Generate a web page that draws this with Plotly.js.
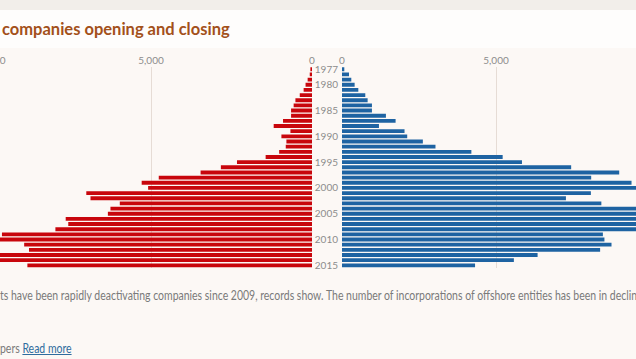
<!DOCTYPE html>
<html>
<head>
<meta charset="utf-8">
<script src="https://cdn.plot.ly/plotly-3.0.1.min.js"></script>
<style>
  html, body { margin:0; padding:0; width:636px; height:359px; overflow:hidden; background:#fcf8f5; }
  #topstrip { position:absolute; left:0; top:0; width:636px; height:10px; background:#f2eeea; z-index:0; }
  #titleband { position:absolute; left:0; top:10px; width:636px; height:38px; background:#fefdfc; z-index:0; }
  #chart { position:absolute; left:-40px; top:0; width:676px; height:359px; z-index:1; }
  .cap { position:absolute; left:0; white-space:nowrap; font-family:Lato, sans-serif; font-size:12.5px; color:#7a7a7a; z-index:2; transform-origin:0 50%; }
  .cap a { color:#2f6c9e; text-decoration:underline; }
</style>
</head>
<body>
<div id="topstrip"></div>
<div id="titleband"></div>
<div id="chart"></div>
<div class="cap" id="cap1" style="top:288px;">ts have been rapidly deactivating companies since 2009, records show. The number of incorporations of offshore entities has been in declin</div>
<div class="cap" id="cap2" style="top:341px;">pers <a href="#">Read more</a></div>
<script>
// ---- data ----
const years = [1977,1978,1979,1980,1981,1982,1983,1984,1985,1986,1987,1988,1989,1990,1991,1992,1993,1994,1995,1996,
               1997,1998,1999,2000,2001,2002,2003,2004,2005,2006,2007,2008,2009,2010,2011,2012,2013,2014,2015];
const closing = [50,70,135,200,260,380,515,570,650,650,900,1190,670,950,795,815,1020,1440,2330,2830,
                 3460,4760,5290,5090,7010,6880,5970,6260,6340,7650,7570,7970,9630,10200,8940,8790,10400,10100,8840];
const opening = [75,227,302,410,530,756,832,972,972,1426,1740,1200,2030,2117,2625,3035,4200,5216,5843,7440,
                 9000,8090,9400,9900,8080,7270,8420,10500,11000,10800,10700,10300,8470,8520,8750,8380,6350,5580,4320];
const yearTicks = [1977,1980,1985,1990,1995,2000,2005,2010,2015];
const xTickVals = [0,5000,10000];
const xTickText = ['0','5,000','10,000'];
const titleText = 'companies opening and closing';

const redCol = '#c8060c', blueCol = '#1e63a2';
const gridCol = '#e6dcd5', tickCol = '#dfc6b4', labelCol = '#8c8c8c';
const W = 676, H = 359;
const leftRange = [10700, 0], rightRange = [0, 9545];
const leftDom = [7.5/W, 352/W], rightDom = [382/W, 1];
const yDom = [1 - 267.9/H, 1 - 66.7/H];
const yRange = [2015.5, 1976.5];

const traces = [
  {type:'bar', orientation:'h', x:closing, y:years, xaxis:'x', yaxis:'y', marker:{color:redCol}, hoverinfo:'x+y'},
  {type:'bar', orientation:'h', x:opening, y:years, xaxis:'x2', yaxis:'y', marker:{color:blueCol}, hoverinfo:'x+y'}
];
const tickFont = {family:'Lato, sans-serif', size:10, color:labelCol};
const topAxis = (dom, rng) => ({domain:dom, range:rng, side:'top', anchor:'y', tickvals:xTickVals, ticktext:xTickText,
  showgrid:true, gridcolor:gridCol, gridwidth:1, zeroline:false, showline:false, ticks:'', tickfont:tickFont, automargin:false, fixedrange:true});
const botAxis = (ov, rng) => ({overlaying:ov, range:rng, side:'bottom', anchor:'y', tickvals:xTickVals, showticklabels:false,
  showgrid:false, zeroline:false, showline:false, ticks:'outside', ticklen:5, tickwidth:2, tickcolor:tickCol, automargin:false, fixedrange:true});

const layout = {
  width:W, height:H, margin:{l:0,r:0,t:0,b:0},
  paper_bgcolor:'rgba(0,0,0,0)', plot_bgcolor:'rgba(0,0,0,0)',
  showlegend:false, bargap:0.25,
  title:{text:'<b>'+titleText+'</b>', x:42/W, xref:'paper', xanchor:'left', y:1-29.5/H, yref:'container', yanchor:'middle',
         font:{family:'Lato, sans-serif', size:16.5, color:'#a3501a'}},
  xaxis: topAxis(leftDom, leftRange),
  xaxis2: topAxis(rightDom, rightRange),
  xaxis3: botAxis('x', leftRange),
  xaxis4: botAxis('x2', rightRange),
  yaxis: {domain:yDom, range:yRange, anchor:'x2', side:'left', tickvals:yearTicks, ticks:'', showgrid:false, zeroline:false,
          showline:false, tickfont:tickFont, ticklabelstandoff:3, automargin:false, fixedrange:true}
};
// bind overlay axes to a domain
layout.xaxis3.domain = leftDom; layout.xaxis4.domain = rightDom;

Plotly.newPlot('chart', traces, layout, {displayModeBar:false, staticPlot:true}).then(fitCaptions);

function fitCaptions(){
  const c1 = document.getElementById('cap1'), c2 = document.getElementById('cap2');
  const w = c1.getBoundingClientRect().width;
  const s = 637 / w;
  c1.style.transform = 'scaleX(' + s + ')';
  c2.style.transform = 'scaleX(' + s + ')';
}
</script>
</body>
</html>
